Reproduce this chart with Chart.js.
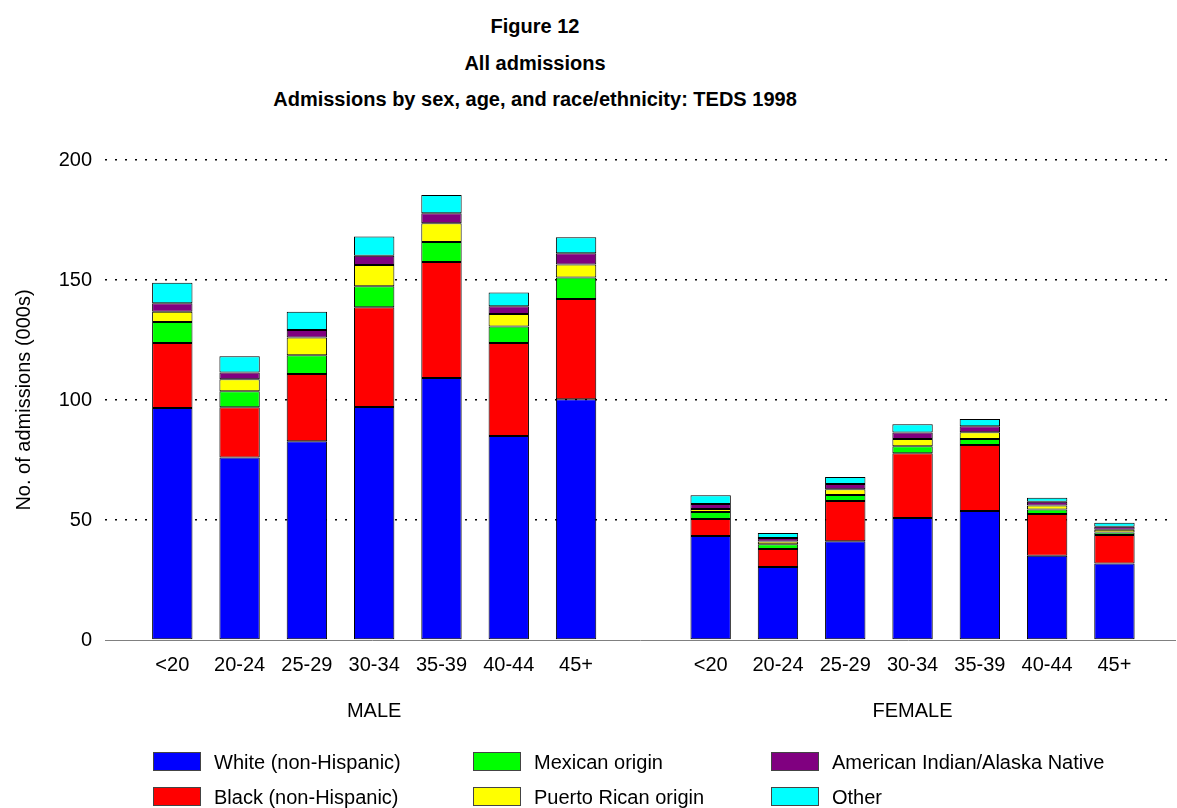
<!DOCTYPE html>
<html>
<head>
<meta charset="utf-8">
<title>Figure 12 - All admissions</title>
<script src="https://cdn.jsdelivr.net/npm/chart.js@4.4.0/dist/chart.umd.min.js"></script>
<style>
  html, body { margin: 0; padding: 0; background: #fff; }
  body { width: 1177px; height: 808px; position: relative; overflow: hidden;
         font-family: "Liberation Sans", Arial, sans-serif; color: #000; }
  #chart { position: absolute; left: 0; top: 0; }
  .fig-title { position: absolute; left: 0; top: 8px; width: 1070px; text-align: center;
               font-weight: bold; font-size: 20px; line-height: 36.5px; }
  .legend-item { position: absolute; height: 20px; font-size: 20px; line-height: 20px; white-space: nowrap; }
  .legend-swatch { position: absolute; left: 0; top: 0; width: 46px; height: 17px; border: 1px solid #444; }
  .legend-label { position: absolute; left: 61px; top: 0; }
</style>
</head>
<body>
<div class="fig-title" id="figTitle"></div>
<canvas id="chart" width="1177" height="808"></canvas>
<div id="legend"></div>
<script>
// === TEDS 1998: admissions by sex, age and race/ethnicity (000s) ===

var titleLines = ['Figure 12', 'All admissions', 'Admissions by sex, age, and race/ethnicity: TEDS 1998'];
var ageGroups = ['<20', '20-24', '25-29', '30-34', '35-39', '40-44', '45+'];
var sexGroups = ['MALE', 'FEMALE'];
var seriesNames = ['White (non-Hispanic)', 'Black (non-Hispanic)', 'Mexican origin',
                   'Puerto Rican origin', 'American Indian/Alaska Native', 'Other'];
var seriesColors = ['#0000ff', '#ff0000', '#00ff00', '#ffff00', '#800080', '#00ffff'];
var yTicks = [0, 50, 100, 150, 200];

// male, by age group
var whiteMale    = [96.7, 76.0, 82.8, 97.1, 109.2, 85.0, 100.3];
var blackMale    = [27.0, 21.0, 28.0, 41.5, 48.3, 38.8, 41.8];
var mexicanMale  = [8.8, 6.6, 7.8, 8.8, 8.3, 6.8, 8.9];
var prMale       = [4.3, 5.0, 7.4, 8.9, 7.8, 5.2, 5.5];
var aianMale     = [3.5, 2.9, 3.2, 3.8, 4.2, 3.3, 4.6];
var otherMale    = [8.6, 6.7, 7.6, 8.0, 7.6, 5.7, 6.7];

// female, by age group
var whiteFemale   = [43.3, 30.4, 41.1, 50.8, 53.8, 35.1, 31.9];
var blackFemale   = [7.1, 7.5, 16.8, 27.0, 27.5, 17.4, 11.9];
var mexicanFemale = [2.9, 2.0, 2.5, 2.9, 2.5, 1.9, 1.0];
var prFemale      = [1.3, 1.1, 2.4, 3.1, 2.8, 1.6, 1.1];
var aianFemale    = [2.1, 1.5, 2.2, 2.7, 2.5, 1.6, 1.3];
var otherFemale   = [3.6, 2.1, 2.9, 3.4, 3.0, 1.7, 1.7];

var maleSeries = [whiteMale, blackMale, mexicanMale, prMale, aianMale, otherMale];
var femaleSeries = [whiteFemale, blackFemale, mexicanFemale, prFemale, aianFemale, otherFemale];

// slots on the x scale: male at 1..7, one empty slot, female at 9..15
var maleX = ageGroups.map(function(a, i) { return i + 1; });
var femaleX = ageGroups.map(function(a, i) { return i + 9; });

var FONT = '"Liberation Sans", Arial, sans-serif';

// --- Title ---
document.getElementById('figTitle').innerHTML = titleLines.join('<br>');

// --- Legend (two rows, three columns, column-major) ---
var legendCols = [153, 473, 771];
var legendRows = [752, 787];
var legendHtml = '';
seriesNames.forEach(function(name, i) {
  var col = Math.floor(i / 2), row = i % 2;
  legendHtml += '<div class="legend-item" style="left:' + legendCols[col] + 'px;top:' + legendRows[row] + 'px;">' +
    '<div class="legend-swatch" style="background:' + seriesColors[i] + ';"></div>' +
    '<div class="legend-label">' + name + '</div></div>';
});
document.getElementById('legend').innerHTML = legendHtml;

// --- Datasets ---
var datasets = seriesNames.map(function(name, s) {
  var pts = [];
  maleX.forEach(function(x, i) { pts.push({ x: x, y: maleSeries[s][i] }); });
  femaleX.forEach(function(x, i) { pts.push({ x: x, y: femaleSeries[s][i] }); });
  return {
    label: name,
    data: pts,
    backgroundColor: seriesColors[s],
    borderColor: '#000',
    borderWidth: 1,
    borderSkipped: false,
    barPercentage: 0.6,
    categoryPercentage: 1
  };
});

// group captions under the age labels
var groupLabels = {
  id: 'groupLabels',
  afterDraw: function(chart) {
    var xs = chart.scales.x;
    var ctx = chart.ctx;
    ctx.save();
    ctx.font = '20px ' + FONT;
    ctx.fillStyle = '#000';
    ctx.textAlign = 'center';
    ctx.textBaseline = 'middle';
    ctx.fillText(sexGroups[0], xs.getPixelForValue((maleX[0] + maleX[maleX.length - 1]) / 2), 711);
    ctx.fillText(sexGroups[1], xs.getPixelForValue((femaleX[0] + femaleX[femaleX.length - 1]) / 2), 711);
    ctx.restore();
  }
};

Chart.defaults.font.family = FONT;
Chart.defaults.font.size = 20;
Chart.defaults.color = '#000';

new Chart(document.getElementById('chart'), {
  type: 'bar',
  data: { datasets: datasets },
  plugins: [groupLabels],
  options: {
    responsive: false,
    animation: false,
    layout: { padding: { top: 160, right: 2, bottom: 128, left: 0 } },
    plugins: {
      legend: { display: false },
      title: { display: false },
      tooltip: { enabled: false }
    },
    scales: {
      x: {
        type: 'linear',
        stacked: true,
        offset: false,
        min: 0,
        max: 15.9,
        grid: { display: false, drawTicks: false },
        border: { display: true, color: '#808080', width: 1 },
        afterBuildTicks: function(scale) {
          scale.ticks = maleX.concat(femaleX).map(function(v) { return { value: v }; });
        },
        afterFit: function(scale) { scale.height = 40; },
        ticks: {
          autoSkip: false,
          maxRotation: 0,
          padding: 13,
          callback: function(v) {
            var i = maleX.indexOf(v);
            if (i < 0) i = femaleX.indexOf(v);
            return i < 0 ? '' : ageGroups[i];
          }
        }
      },
      y: {
        stacked: true,
        min: 0,
        max: 200,
        afterBuildTicks: function(scale) {
          scale.ticks = yTicks.map(function(v) { return { value: v }; });
        },
        afterFit: function(scale) { scale.width = 105; },
        grid: {
          drawTicks: false,
          lineWidth: 1.5,
          color: function(ctx) { return ctx.tick && ctx.tick.value === 0 ? 'rgba(0,0,0,0)' : '#000'; }
        },
        border: { display: false, dash: [2, 8] },
        ticks: { padding: 13 },
        title: {
          display: true,
          text: 'No. of admissions (000s)',
          font: { size: 20 },
          padding: { top: 12, bottom: 4 }
        }
      }
    }
  }
});
</script>
</body>
</html>
